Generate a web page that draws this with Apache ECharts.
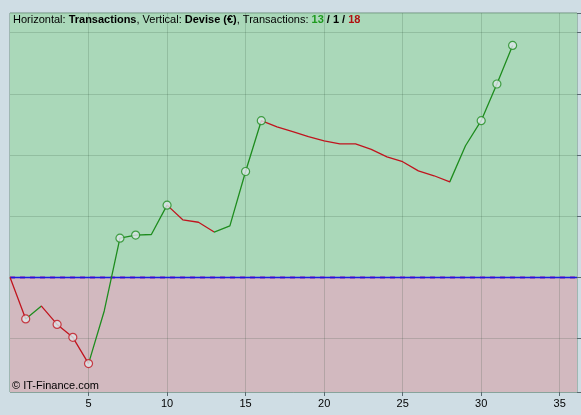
<!DOCTYPE html>
<html><head><meta charset="utf-8">
<script src="https://cdn.jsdelivr.net/npm/echarts@6/dist/echarts.min.js"></script>
<style>html,body{margin:0;padding:0;background:#cfdde4;}#c{width:581px;height:415px;}</style>
</head><body><div id="c"></div>
<script>
// Data (y in grid units, one unit = one horizontal gridline step)
const values = [0, -0.68, -0.47, -0.77, -0.98, -1.41, -0.55, 0.64, 0.69, 0.70, 1.18, 0.94, 0.90, 0.74, 0.84, 1.73, 2.56, 2.46, 2.38, 2.30, 2.23, 2.18, 2.18, 2.09, 1.97, 1.89, 1.74, 1.66, 1.56, 2.15, 2.56, 3.16, 3.79];
const markerIdx = [1, 3, 4, 5, 7, 8, 10, 15, 16, 30, 31, 32];
const xTicks = [5, 10, 15, 20, 25, 30, 35];
const X_MAX = 36.1;
const Y_MIN = -1.874;
const Y_MAX = 4.32;

const GREEN = '#1e8c1e', RED = '#c0141e';
const segColor = [];
let up = 0, flat = 0, down = 0;
for (let i = 0; i < values.length - 1; i++) {
  const d = values[i + 1] - values[i];
  if (d > 0) { up++; segColor.push(GREEN); }
  else if (d < 0) { down++; segColor.push(RED); }
  else { flat++; segColor.push(RED); }
}
const pieces = segColor.map((c, i) => i === 0 ? { gte: i, lte: i + 1, color: c } : { gt: i, lte: i + 1, color: c });
const FONT = 'Liberation Sans, Arial';
const FS = 11;

const chart = echarts.init(document.getElementById('c'), null, { renderer: 'canvas' });
chart.setOption({
  backgroundColor: '#cfdde4',
  animation: false,
  title: [{
    left: 13, top: 13, padding: 0,
    text: '{n|Horizontal: }{b|Transactions}{n|, Vertical: }{b|Devise (€)}{n|, Transactions: }{g|' + up + '}{b| / ' + flat + ' / }{r|' + down + '}',
    textStyle: {
      fontWeight: 'normal', fontSize: FS, fontFamily: FONT,
      rich: {
        n: { fontFamily: FONT, fontSize: FS, fontWeight: 'normal', color: '#000', lineHeight: 14 },
        b: { fontFamily: FONT, fontSize: FS, fontWeight: 'bold', color: '#000', lineHeight: 14 },
        g: { fontFamily: FONT, fontSize: FS, fontWeight: 'bold', color: '#1e9a1e', lineHeight: 14 },
        r: { fontFamily: FONT, fontSize: FS, fontWeight: 'bold', color: '#b01010', lineHeight: 14 }
      }
    }
  }, {
    left: 12, top: 380, padding: 0,
    text: '© IT-Finance.com',
    textStyle: { fontFamily: FONT, fontSize: FS, fontWeight: 'normal', color: '#000' }
  }],
  grid: { left: 10, right: 4, top: 13, bottom: 23, show: true, borderColor: '#6f9180', borderWidth: 1, backgroundColor: 'transparent' },
  xAxis: {
    type: 'value', min: 0, max: X_MAX, interval: 5, z: 1, position: 'bottom',
    axisLine: { show: false, onZero: false },
    axisTick: { show: true, length: 4, lineStyle: { color: '#5a6a70' }, customValues: xTicks },
    axisLabel: { color: '#000', fontSize: FS, fontFamily: FONT, margin: 6, customValues: xTicks },
    splitLine: { show: true, lineStyle: { color: 'rgba(40,70,50,0.18)', width: 1 } }
  },
  yAxis: {
    type: 'value', min: Y_MIN, max: Y_MAX, splitNumber: 6, position: 'right', z: 1,
    axisLine: { show: false, onZero: false },
    axisTick: { show: true, length: 4, lineStyle: { color: '#5a6a70' } },
    axisLabel: { show: false },
    splitLine: { show: true, lineStyle: { color: 'rgba(40,70,50,0.18)', width: 1 } }
  },
  visualMap: { type: 'piecewise', show: false, dimension: 0, seriesIndex: 0, pieces: pieces, outOfRange: { color: RED } },
  series: [{
    type: 'line', z: 3,
    data: values.map((v, i) => [i, v]),
    showSymbol: false, symbol: 'none',
    lineStyle: { width: 1.3 },
    markArea: {
      silent: true, z: 0,
      data: [
        [{ yAxis: 0, itemStyle: { color: '#aad8b9', opacity: 1 } }, { yAxis: Y_MAX }],
        [{ yAxis: Y_MIN, itemStyle: { color: '#d2b9bf', opacity: 1 } }, { yAxis: 0 }]
      ]
    },
    markLine: {
      silent: true, symbol: 'none', label: { show: false }, z: 1,
      data: [
        { yAxis: 0, lineStyle: { color: '#b070b0', type: [5, 5], width: 3, opacity: 1 } }
      ]
    }
  }, {
    type: 'scatter', z: 4,
    symbol: 'circle', symbolSize: 8,
    data: markerIdx.map(i => ({ value: [i, values[i]], itemStyle: { color: '#dde6ea', borderColor: segColor[i - 1], borderWidth: 1.2 } })),
    markLine: {
      silent: true, symbol: 'none', label: { show: false }, z: 2,
      data: [
        { yAxis: 0, lineStyle: { color: '#1a1ae0', type: 'solid', width: 1.3, opacity: 1 } }
      ]
    }
  }]
});
</script></body></html>
